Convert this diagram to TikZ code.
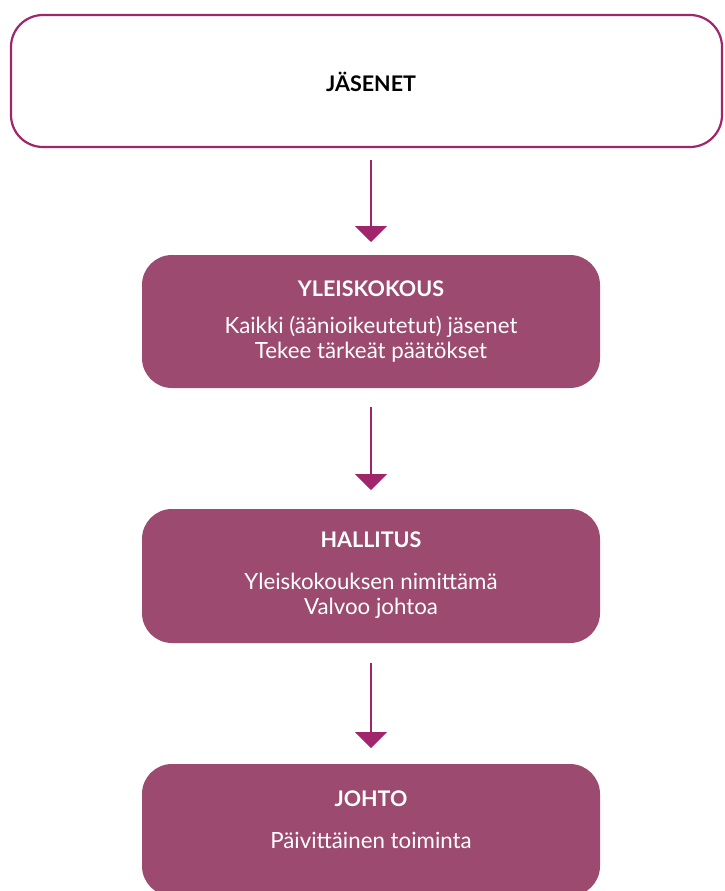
\documentclass[tikz,border=0pt]{standalone}
\usepackage{fontspec}
\setmainfont{Lato}
\usetikzlibrary{arrows.meta}
\definecolor{boxfill}{HTML}{9C4A6F}
\definecolor{lineC}{HTML}{A0256A}
\begin{document}
\begin{tikzpicture}[x=1pt,y=-1pt,
  outline/.style={draw=lineC,line width=2.2pt,rounded corners=32pt,fill=white},
  filled/.style={fill=boxfill,rounded corners=30pt},
  ttl/.style={font=\fontsize{21.5}{26}\selectfont\bfseries},
  body/.style={font=\fontsize{22.3}{25}\selectfont,align=center,text=white},
  conn/.style={draw=lineC,line width=2pt,-{Triangle[length=16pt,width=32pt]}}]
\useasboundingbox (0,0) rectangle (724,891);
\draw[outline] (11,15) rectangle (722,147);
\fill[filled] (142,255) rectangle (600,388);
\fill[filled] (142,509) rectangle (600,643);
\fill[filled] (142,764) rectangle (600,896);
\node[ttl] (jas) at (371,82) {JÄSENET};
\node[ttl,text=white] (yk) at (371,289) {YLEISKOKOUS};
\node[body] (ykb) at (371,339) {Kaikki (äänioikeutetut) jäsenet\\Tekee tärkeät päätökset};
\node[ttl,text=white] (hal) at (371,540) {HALLITUS};
\node[body] (halb) at (371,596) {Yleiskokouksen nimittämä\\Valvoo johtoa};
\node[ttl,text=white] (joh) at (371,799) {JOHTO};
\node[body] (johb) at (371,840) {Päivittäinen toiminta};
\coordinate (a1s) at (371,160); \coordinate (a1e) at (371,242);
\coordinate (a2s) at (371,407); \coordinate (a2e) at (371,490);
\coordinate (a3s) at (371,663); \coordinate (a3e) at (371,748);
\draw[conn] (a1s) -- (a1e);
\draw[conn] (a2s) -- (a2e);
\draw[conn] (a3s) -- (a3e);
\end{tikzpicture}
\end{document}
